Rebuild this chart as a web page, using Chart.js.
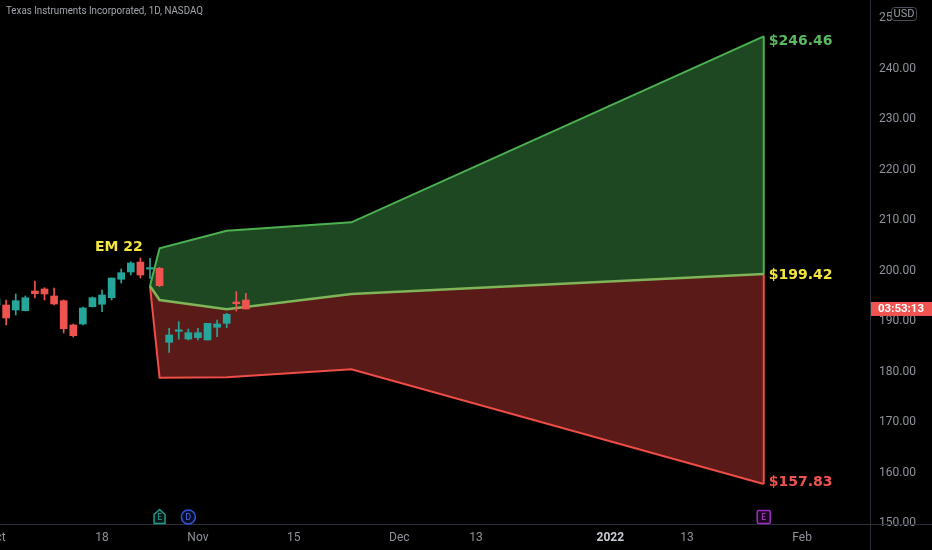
<!DOCTYPE html>
<html>
<head>
<meta charset="utf-8">
<script src="https://cdn.jsdelivr.net/npm/chart.js@4.4.0/dist/chart.umd.min.js"></script>
<style>
html,body{margin:0;padding:0;background:#000;overflow:hidden;}
#wrap{width:932px;height:550px;position:relative;}
</style>
</head>
<body>
<div id="wrap"><canvas id="c" width="932" height="550"></canvas></div>
<script>
// Trading-day index: 0 = 2021-10-18
const candleIdx = [-11,-10,-9,-8,-7,-6,-5,-4,-3,-2,-1,0,1,2,3,4,5,6,7,8,9,10,11,12,13,14,15];
const opens  = [193.27,193.27,192.28,192.14,196.04,196.44,195.05,194.12,189.31,189.50,192.93,193.41,194.71,198.36,199.80,201.78,200.38,200.53,185.88,188.05,186.53,186.79,186.34,188.85,189.64,193.86,194.26];
const highs  = [194.85,194.26,195.45,195.05,198.02,196.69,196.63,194.26,189.50,192.87,194.85,196.24,198.61,200.40,201.84,202.57,202.51,200.73,188.65,189.96,188.51,188.65,189.64,190.30,191.62,195.90,195.58];
const lows   = [192.48,189.31,191.29,192.08,194.65,194.26,193.27,187.72,186.93,189.31,192.87,191.94,194.26,197.62,199.21,198.61,198.55,196.89,183.90,186.48,186.34,186.34,186.34,186.99,188.77,192.08,192.48];
const closes = [194.46,190.69,194.12,194.71,195.50,195.45,193.47,188.57,187.19,192.67,194.71,195.25,198.61,199.66,201.58,199.21,200.42,197.09,187.33,188.20,187.78,187.78,189.64,189.50,191.43,193.52,192.48];

// Expected-move band
const bandIdx   = [5, 6, 13, 26, 69];
const bandUpper = [197.03, 204.50, 207.98, 209.64, 246.46];
const bandMid   = [197.03, 194.26, 192.42, 195.45, 199.42];
const bandLower = [197.03, 178.87, 178.95, 180.53, 157.83];

// Axis ticks
const xTickIdx    = [-11, 0, 10, 20, 31, 39, 53, 61, 73];
const xTickLabels = ['Oct', '18', 'Nov', '15', 'Dec', '13', '2022', '13', 'Feb'];
const yTicks      = [150, 160, 170, 180, 190, 200, 210, 220, 230, 240, 250];

// Events
const eventIdx     = [6, 9, 69];
const eventLetters = ['E', 'D', 'E'];

const titleText = 'Texas Instruments Incorporated, 1D, NASDAQ';
const emLabel = 'EM 22';
const countdown = '03:53:13';

const UP = '#26a69a', DOWN = '#ef5350';
const candleColors = opens.map((o, i) => closes[i] >= o ? UP : DOWN);
const pts = (xs, ys) => xs.map((x, i) => ({x, y: ys[i]}));
const last = a => a[a.length - 1];

const decor = {
  id: 'decor',
  afterDraw(chart) {
    const c = chart.ctx, xs = chart.scales.x, ys = chart.scales.y;
    c.save();
    // separators
    c.strokeStyle = '#2c2f37';
    c.lineWidth = 1;
    c.beginPath();
    c.moveTo(870.5, 0); c.lineTo(870.5, 550);
    c.moveTo(0, 524.5); c.lineTo(932, 524.5);
    c.stroke();

    // title
    c.fillStyle = '#a3a6ae';
    c.font = '11.5px Roboto, "Liberation Sans", sans-serif';
    c.textBaseline = 'middle';
    c.textAlign = 'left';
    c.fillText(titleText, 6, 11, 197);

    // EM label
    c.fillStyle = '#f3e63e';
    c.font = 'bold 14px "DejaVu Sans", sans-serif';
    c.textAlign = 'right';
    c.fillText(emLabel, xs.getPixelForValue(4.25), ys.getPixelForValue(204.75));

    // price labels at band end
    const ex = xs.getPixelForValue(last(bandIdx)) + 5;
    c.textAlign = 'left';
    c.fillStyle = '#5cb85f';
    c.fillText('$' + last(bandUpper).toFixed(2), ex, ys.getPixelForValue(last(bandUpper)) + 5);
    c.fillStyle = '#f3e63e';
    c.fillText('$' + last(bandMid).toFixed(2), ex, ys.getPixelForValue(last(bandMid)) + 1);
    c.fillStyle = '#ef5350';
    c.fillText('$' + last(bandLower).toFixed(2), ex, ys.getPixelForValue(last(bandLower)) - 2);

    // countdown box at last close
    const cy = ys.getPixelForValue(last(closes));
    c.fillStyle = '#f05350';
    c.fillRect(871, cy - 7, 61, 14);
    c.fillStyle = '#ffffff';
    c.font = 'bold 11.5px Roboto, sans-serif';
    c.textAlign = 'center';
    c.fillText(countdown, 901, cy + 0.5);

    // USD box
    c.fillStyle = '#000';
    c.strokeStyle = '#4a4d57';
    c.beginPath();
    if (c.roundRect) c.roundRect(891.5, 7.5, 25, 13, 3); else c.rect(891.5, 7.5, 25, 13);
    c.fill(); c.stroke();
    c.fillStyle = '#9a9da6';
    c.font = '11px Roboto, sans-serif';
    c.fillText('USD', 904, 14.5);

    // event markers
    const my = 517;
    eventIdx.forEach((idx, i) => {
      const x = xs.getPixelForValue(idx);
      c.lineWidth = 1.5;
      c.beginPath();
      if (i === 0) {
        c.strokeStyle = '#1f9a8a'; c.fillStyle = '#061815';
        c.moveTo(x - 5.5, my + 6.5); c.lineTo(x - 5.5, my - 2.5); c.lineTo(x, my - 7.5);
        c.lineTo(x + 5.5, my - 2.5); c.lineTo(x + 5.5, my + 6.5); c.closePath();
      } else if (i === 1) {
        c.strokeStyle = '#2f55d8'; c.fillStyle = '#070d26';
        c.arc(x, my, 7, 0, Math.PI * 2);
      } else {
        c.strokeStyle = '#a12bc2'; c.fillStyle = '#1a0820';
        if (c.roundRect) c.roundRect(x - 6.5, my - 6.5, 13, 13, 1.5); else c.rect(x - 6.5, my - 6.5, 13, 13);
      }
      c.fill(); c.stroke();
      c.fillStyle = i === 0 ? '#26a69a' : (i === 1 ? '#4a6ff0' : '#c03fe0');
      c.font = '8.5px Roboto, sans-serif';
      c.textAlign = 'center';
      c.fillText(eventLetters[i], x, my + 1);
    });
    c.restore();
  }
};

Chart.defaults.font.family = 'Roboto, "Liberation Sans", sans-serif';

new Chart(document.getElementById('c'), {
  type: 'line',
  data: {
    datasets: [
      { label: 'upper', data: pts(bandIdx, bandUpper), borderColor: '#4db151', borderWidth: 2,
        backgroundColor: '#1d4822', fill: '+1', pointRadius: 0, tension: 0, order: 4 },
      { label: 'mid', data: pts(bandIdx, bandMid), borderColor: '#7fb459', borderWidth: 2.5,
        backgroundColor: '#5a1a17', fill: '+1', pointRadius: 0, tension: 0, order: 2 },
      { label: 'lower', data: pts(bandIdx, bandLower), borderColor: '#ef4d48', borderWidth: 2,
        fill: false, pointRadius: 0, tension: 0, order: 4 },
      { label: 'edgeUp', data: [{x: last(bandIdx), y: last(bandUpper)}, {x: last(bandIdx), y: last(bandMid)}],
        borderColor: '#4db151', borderWidth: 2, fill: false, pointRadius: 0, order: 3 },
      { label: 'edgeDown', data: [{x: last(bandIdx), y: last(bandMid)}, {x: last(bandIdx), y: last(bandLower)}],
        borderColor: '#ef4d48', borderWidth: 2, fill: false, pointRadius: 0, order: 3 },
      { type: 'bar', label: 'wicks', data: candleIdx.map((x, i) => ({x, y: [lows[i], highs[i]]})),
        backgroundColor: candleColors, barThickness: 1, grouped: false, minBarLength: 1, order: 1 },
      { type: 'bar', label: 'bodies', data: candleIdx.map((x, i) => ({x, y: [opens[i], closes[i]]})),
        backgroundColor: candleColors, barThickness: 7, grouped: false, minBarLength: 1.5, order: 0 }
    ]
  },
  options: {
    responsive: false,
    animation: false,
    events: [],
    layout: { padding: 0 },
    plugins: {
      legend: { display: false },
      tooltip: { enabled: false },
      filler: { drawTime: 'beforeDatasetsDraw' }
    },
    scales: {
      x: {
        type: 'linear', min: -10.64, max: 80.08, offset: false,
        grid: { display: false, drawTicks: false }, border: { display: false },
        afterBuildTicks: s => { s.ticks = xTickIdx.map(v => ({ value: v })); },
        afterFit: s => { s.height = 26; s.paddingLeft = 0; s.paddingRight = 0; },
        ticks: {
          autoSkip: false, maxRotation: 0, minRotation: 0, padding: 7,
          callback: (v, i) => xTickLabels[i],
          color: ctx => xTickLabels[ctx.index] === '2022' ? '#c8cbd3' : '#8f929b',
          font: ctx => xTickLabels[ctx.index] === '2022' ? { size: 12, weight: 'bold' } : { size: 12 }
        }
      },
      y: {
        type: 'linear', position: 'right', min: 149.9, max: 253.66,
        grid: { display: false, drawTicks: false }, border: { display: false },
        afterBuildTicks: s => { s.ticks = yTicks.map(v => ({ value: v })); },
        afterFit: s => { s.width = 62; s.paddingTop = 0; s.paddingBottom = 0; },
        ticks: { padding: 9, color: '#8f929b', font: { size: 12 }, callback: v => Number(v).toFixed(2) }
      }
    }
  },
  plugins: [decor]
});
</script>
</body>
</html>
